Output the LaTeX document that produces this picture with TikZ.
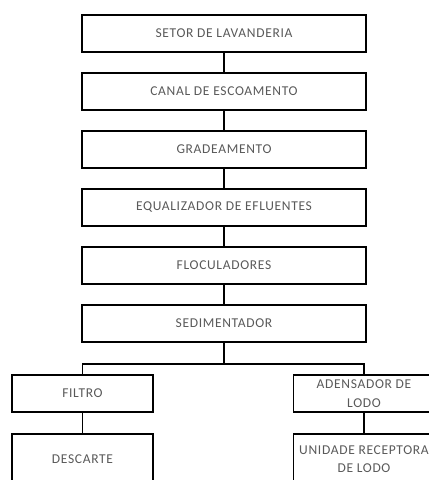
\documentclass[tikz,border=0pt]{standalone}
\usepackage{fontspec}
\newfontfamily\boxfont[LetterSpace=5]{Carlito}
\usepackage{tikz}
\usetikzlibrary{positioning}
\tikzset{
    stage/.style = {rectangle, minimum width=284pt, minimum height=37pt, align=center, draw=black, line width=1.6pt, text=black!65, font=\boxfont\fontsize{13.5}{18.5}\selectfont},
    branch/.style = {stage, minimum width=141pt, inner sep=1pt},
    link/.style = {line width=1.6pt}
}

\begin{document}
\begin{tikzpicture}
\useasboundingbox (0,0) rectangle (429pt,-480pt);
\clip (0,0) rectangle (429pt,-480pt);

\node[stage] (setor) at (224pt,-33.5pt) {SETOR DE LAVANDERIA};
\node[stage, below=19.4pt of setor] (canal) {CANAL DE ESCOAMENTO};
\node[stage, below=19.4pt of canal] (grade) {GRADEAMENTO};
\node[stage, below=19.4pt of grade] (equal) {EQUALIZADOR DE EFLUENTES};
\node[stage, below=19.4pt of equal] (floc) {FLOCULADORES};
\node[stage, below=19.4pt of floc] (sedim) {SEDIMENTADOR};

\node[branch] (filtro) at (82.5pt,-393.5pt) {FILTRO};
\node[branch] (adens) at (364pt,-393.5pt) {ADENSADOR DE\\LODO};
\node[branch, minimum height=50pt, below=20.5pt of filtro.south, anchor=north] (descarte) {DESCARTE};
\node[branch, minimum height=50pt, below=20.5pt of adens.south, anchor=north] (unidade) {UNIDADE RECEPTORA\\DE LODO};

\coordinate[below=21pt of sedim.south] (bus);

\draw[link] (setor) -- (canal);
\draw[link] (canal) -- (grade);
\draw[link] (grade) -- (equal);
\draw[link] (equal) -- (floc);
\draw[link] (floc) -- (sedim);
\draw[link] (sedim) -- (bus);
\draw[link] (filtro.north) |- (bus) -| (adens.north);
\draw[link] (filtro) -- (descarte);
\draw[link] (adens) -- (unidade);
\end{tikzpicture}
\end{document}
